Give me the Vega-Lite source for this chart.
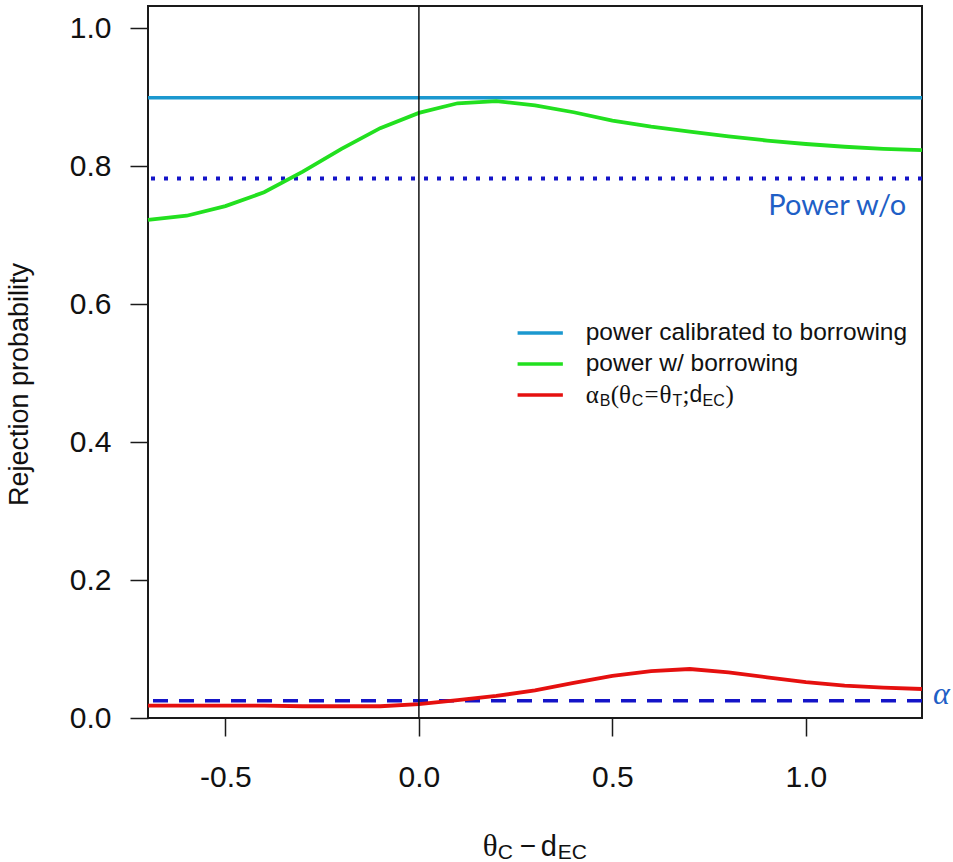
{
  "$schema": "https://vega.github.io/schema/vega-lite/v6.json",
  "width": 774,
  "height": 712,
  "autosize": {"type": "none"},
  "padding": {"left": 148, "top": 6, "right": 31, "bottom": 144},
  "background": "white",
  "data": {"values": [{"anchor": 1}]},
  "config": {
    "view": {"stroke": "#1a1a1a", "strokeWidth": 2},
    "axis": {
      "grid": false,
      "domain": false,
      "tickColor": "#1a1a1a",
      "tickWidth": 1.5,
      "tickSize": 18,
      "labelFont": "Liberation Sans",
      "labelFontSize": 30,
      "labelColor": "#111111",
      "titleFont": "Liberation Sans",
      "titleFontWeight": "normal",
      "titleColor": "#111111"
    },
    "text": {"color": "#111111"}
  },
  "datasets": {
    "curves": [
      {"x": -0.7, "p": 0.722, "series": "power w/ borrowing"},
      {"x": -0.6, "p": 0.728, "series": "power w/ borrowing"},
      {"x": -0.5, "p": 0.742, "series": "power w/ borrowing"},
      {"x": -0.4, "p": 0.762, "series": "power w/ borrowing"},
      {"x": -0.3, "p": 0.792, "series": "power w/ borrowing"},
      {"x": -0.2, "p": 0.825, "series": "power w/ borrowing"},
      {"x": -0.1, "p": 0.855, "series": "power w/ borrowing"},
      {"x": 0.0, "p": 0.877, "series": "power w/ borrowing"},
      {"x": 0.1, "p": 0.891, "series": "power w/ borrowing"},
      {"x": 0.2, "p": 0.894, "series": "power w/ borrowing"},
      {"x": 0.3, "p": 0.888, "series": "power w/ borrowing"},
      {"x": 0.4, "p": 0.878, "series": "power w/ borrowing"},
      {"x": 0.5, "p": 0.866, "series": "power w/ borrowing"},
      {"x": 0.6, "p": 0.857, "series": "power w/ borrowing"},
      {"x": 0.7, "p": 0.850, "series": "power w/ borrowing"},
      {"x": 0.8, "p": 0.843, "series": "power w/ borrowing"},
      {"x": 0.9, "p": 0.837, "series": "power w/ borrowing"},
      {"x": 1.0, "p": 0.832, "series": "power w/ borrowing"},
      {"x": 1.1, "p": 0.828, "series": "power w/ borrowing"},
      {"x": 1.2, "p": 0.825, "series": "power w/ borrowing"},
      {"x": 1.3, "p": 0.823, "series": "power w/ borrowing"},
      {"x": -0.7, "p": 0.018, "series": "alpha"},
      {"x": -0.6, "p": 0.018, "series": "alpha"},
      {"x": -0.5, "p": 0.018, "series": "alpha"},
      {"x": -0.4, "p": 0.018, "series": "alpha"},
      {"x": -0.3, "p": 0.017, "series": "alpha"},
      {"x": -0.2, "p": 0.017, "series": "alpha"},
      {"x": -0.1, "p": 0.017, "series": "alpha"},
      {"x": 0.0, "p": 0.020, "series": "alpha"},
      {"x": 0.1, "p": 0.026, "series": "alpha"},
      {"x": 0.2, "p": 0.032, "series": "alpha"},
      {"x": 0.3, "p": 0.040, "series": "alpha"},
      {"x": 0.4, "p": 0.051, "series": "alpha"},
      {"x": 0.5, "p": 0.061, "series": "alpha"},
      {"x": 0.6, "p": 0.068, "series": "alpha"},
      {"x": 0.7, "p": 0.071, "series": "alpha"},
      {"x": 0.8, "p": 0.066, "series": "alpha"},
      {"x": 0.9, "p": 0.059, "series": "alpha"},
      {"x": 1.0, "p": 0.052, "series": "alpha"},
      {"x": 1.1, "p": 0.047, "series": "alpha"},
      {"x": 1.2, "p": 0.044, "series": "alpha"},
      {"x": 1.3, "p": 0.042, "series": "alpha"}
    ]
  },
  "layer": [
    {
      "mark": {"type": "rule", "stroke": "#1414c8", "strokeWidth": 4, "strokeDash": [4, 9]},
      "encoding": {"y": {"datum": 0.782, "type": "quantitative", "scale": {"domain": [0, 1.032], "nice": false, "zero": false}}}
    },
    {
      "mark": {"type": "rule", "stroke": "#1414c8", "strokeWidth": 3.5, "strokeDash": [15, 11]},
      "encoding": {"y": {"datum": 0.025, "type": "quantitative", "scale": {"domain": [0, 1.032], "nice": false, "zero": false}}}
    },
    {
      "mark": {"type": "rule", "stroke": "#1b98cf", "strokeWidth": 3.5},
      "encoding": {"y": {"datum": 0.899, "type": "quantitative", "scale": {"domain": [0, 1.032], "nice": false, "zero": false}}}
    },
    {
      "data": {"name": "curves"},
      "mark": {"type": "line", "strokeWidth": 3.8},
      "encoding": {
        "x": {
          "field": "x", "type": "quantitative",
          "scale": {"domain": [-0.7, 1.3], "nice": false, "zero": false},
          "axis": {"values": [-0.5, 0, 0.5, 1], "labelExpr": "replace(format(datum.value, '.1f'), '\u2212', '-')", "labelPadding": 26, "title": null}
        },
        "y": {
          "field": "p", "type": "quantitative",
          "scale": {"domain": [0, 1.032], "nice": false, "zero": false},
          "axis": {"values": [0, 0.2, 0.4, 0.6, 0.8, 1.0], "format": ".1f", "labelPadding": 19, "title": "Rejection probability", "titleFontSize": 27, "titlePadding": 36, "titleY": 378}
        },
        "color": {
          "field": "series", "type": "nominal",
          "scale": {"domain": ["power w/ borrowing", "alpha"], "range": ["#22e01f", "#e5100f"]},
          "legend": null
        }
      }
    },
    {
      "mark": {"type": "rule", "stroke": "#111111", "strokeWidth": 1.5},
      "encoding": {"x": {"datum": 0, "type": "quantitative", "scale": {"domain": [-0.7, 1.3], "nice": false, "zero": false}}}
    },
    {
      "mark": {"type": "rule", "stroke": "#1b98cf", "strokeWidth": 3.5},
      "encoding": {
        "x": {"datum": 0.255, "type": "quantitative", "scale": {"domain": [-0.7, 1.3], "nice": false, "zero": false}},
        "x2": {"datum": 0.372},
        "y": {"datum": 0.558, "type": "quantitative", "scale": {"domain": [0, 1.032], "nice": false, "zero": false}}
      }
    },
    {
      "mark": {"type": "rule", "stroke": "#22e01f", "strokeWidth": 3.5},
      "encoding": {
        "x": {"datum": 0.255, "type": "quantitative", "scale": {"domain": [-0.7, 1.3], "nice": false, "zero": false}},
        "x2": {"datum": 0.372},
        "y": {"datum": 0.513, "type": "quantitative", "scale": {"domain": [0, 1.032], "nice": false, "zero": false}}
      }
    },
    {
      "mark": {"type": "rule", "stroke": "#e5100f", "strokeWidth": 3.5},
      "encoding": {
        "x": {"datum": 0.255, "type": "quantitative", "scale": {"domain": [-0.7, 1.3], "nice": false, "zero": false}},
        "x2": {"datum": 0.372},
        "y": {"datum": 0.468, "type": "quantitative", "scale": {"domain": [0, 1.032], "nice": false, "zero": false}}
      }
    },
    {
      "mark": {"type": "text", "text": "power calibrated to borrowing", "font": "Liberation Sans", "fontSize": 24.5, "align": "left", "baseline": "middle"},
      "encoding": {
        "x": {"datum": 0.431, "type": "quantitative", "scale": {"domain": [-0.7, 1.3], "nice": false, "zero": false}},
        "y": {"datum": 0.558, "type": "quantitative", "scale": {"domain": [0, 1.032], "nice": false, "zero": false}}
      }
    },
    {
      "mark": {"type": "text", "text": "power w/ borrowing", "font": "Liberation Sans", "fontSize": 24.5, "align": "left", "baseline": "middle"},
      "encoding": {
        "x": {"datum": 0.431, "type": "quantitative", "scale": {"domain": [-0.7, 1.3], "nice": false, "zero": false}},
        "y": {"datum": 0.513, "type": "quantitative", "scale": {"domain": [0, 1.032], "nice": false, "zero": false}}
      }
    },
    {
      "mark": {"type": "text", "text": "α", "font": "Liberation Serif", "fontSize": 25, "align": "left", "baseline": "middle"},
      "encoding": {
        "x": {"datum": 0.431, "type": "quantitative", "scale": {"domain": [-0.7, 1.3], "nice": false, "zero": false}},
        "y": {"datum": 0.468, "type": "quantitative", "scale": {"domain": [0, 1.032], "nice": false, "zero": false}}
      }
    },
    {
      "mark": {"type": "text", "text": "B", "font": "Liberation Sans", "fontSize": 16, "align": "left", "baseline": "middle"},
      "encoding": {
        "x": {"datum": 0.4671, "type": "quantitative", "scale": {"domain": [-0.7, 1.3], "nice": false, "zero": false}},
        "y": {"datum": 0.460, "type": "quantitative", "scale": {"domain": [0, 1.032], "nice": false, "zero": false}}
      }
    },
    {
      "mark": {"type": "text", "text": "(θ", "font": "Liberation Serif", "fontSize": 25, "align": "left", "baseline": "middle"},
      "encoding": {
        "x": {"datum": 0.4955, "type": "quantitative", "scale": {"domain": [-0.7, 1.3], "nice": false, "zero": false}},
        "y": {"datum": 0.468, "type": "quantitative", "scale": {"domain": [0, 1.032], "nice": false, "zero": false}}
      }
    },
    {
      "mark": {"type": "text", "text": "C", "font": "Liberation Sans", "fontSize": 16, "align": "left", "baseline": "middle"},
      "encoding": {
        "x": {"datum": 0.5497, "type": "quantitative", "scale": {"domain": [-0.7, 1.3], "nice": false, "zero": false}},
        "y": {"datum": 0.460, "type": "quantitative", "scale": {"domain": [0, 1.032], "nice": false, "zero": false}}
      }
    },
    {
      "mark": {"type": "text", "text": "=", "font": "Liberation Serif", "fontSize": 25, "align": "left", "baseline": "middle"},
      "encoding": {
        "x": {"datum": 0.5832, "type": "quantitative", "scale": {"domain": [-0.7, 1.3], "nice": false, "zero": false}},
        "y": {"datum": 0.468, "type": "quantitative", "scale": {"domain": [0, 1.032], "nice": false, "zero": false}}
      }
    },
    {
      "mark": {"type": "text", "text": "θ", "font": "Liberation Serif", "fontSize": 25, "align": "left", "baseline": "middle"},
      "encoding": {
        "x": {"datum": 0.6219, "type": "quantitative", "scale": {"domain": [-0.7, 1.3], "nice": false, "zero": false}},
        "y": {"datum": 0.468, "type": "quantitative", "scale": {"domain": [0, 1.032], "nice": false, "zero": false}}
      }
    },
    {
      "mark": {"type": "text", "text": "T", "font": "Liberation Sans", "fontSize": 16, "align": "left", "baseline": "middle"},
      "encoding": {
        "x": {"datum": 0.6555, "type": "quantitative", "scale": {"domain": [-0.7, 1.3], "nice": false, "zero": false}},
        "y": {"datum": 0.460, "type": "quantitative", "scale": {"domain": [0, 1.032], "nice": false, "zero": false}}
      }
    },
    {
      "mark": {"type": "text", "text": ";", "font": "Liberation Serif", "fontSize": 25, "align": "left", "baseline": "middle"},
      "encoding": {
        "x": {"datum": 0.6813, "type": "quantitative", "scale": {"domain": [-0.7, 1.3], "nice": false, "zero": false}},
        "y": {"datum": 0.468, "type": "quantitative", "scale": {"domain": [0, 1.032], "nice": false, "zero": false}}
      }
    },
    {
      "mark": {"type": "text", "text": "d", "font": "Liberation Sans", "fontSize": 23, "align": "left", "baseline": "middle"},
      "encoding": {
        "x": {"datum": 0.6994, "type": "quantitative", "scale": {"domain": [-0.7, 1.3], "nice": false, "zero": false}},
        "y": {"datum": 0.468, "type": "quantitative", "scale": {"domain": [0, 1.032], "nice": false, "zero": false}}
      }
    },
    {
      "mark": {"type": "text", "text": "EC", "font": "Liberation Sans", "fontSize": 16, "align": "left", "baseline": "middle"},
      "encoding": {
        "x": {"datum": 0.7329, "type": "quantitative", "scale": {"domain": [-0.7, 1.3], "nice": false, "zero": false}},
        "y": {"datum": 0.460, "type": "quantitative", "scale": {"domain": [0, 1.032], "nice": false, "zero": false}}
      }
    },
    {
      "mark": {"type": "text", "text": ")", "font": "Liberation Serif", "fontSize": 25, "align": "left", "baseline": "middle"},
      "encoding": {
        "x": {"datum": 0.7923, "type": "quantitative", "scale": {"domain": [-0.7, 1.3], "nice": false, "zero": false}},
        "y": {"datum": 0.468, "type": "quantitative", "scale": {"domain": [0, 1.032], "nice": false, "zero": false}}
      }
    },
    {
      "mark": {"type": "text", "text": "Power w/o", "font": "Lato", "fontSize": 29, "align": "right", "baseline": "alphabetic", "color": "#1f5fc6"},
      "encoding": {
        "x": {"datum": 1.259, "type": "quantitative", "scale": {"domain": [-0.7, 1.3], "nice": false, "zero": false}},
        "y": {"datum": 0.729, "type": "quantitative", "scale": {"domain": [0, 1.032], "nice": false, "zero": false}}
      }
    },
    {
      "mark": {"type": "text", "text": "α", "font": "Liberation Serif", "fontStyle": "italic", "fontSize": 32, "align": "center", "baseline": "middle", "color": "#1f5fc6"},
      "encoding": {
        "x": {"datum": 1.35, "type": "quantitative", "scale": {"domain": [-0.7, 1.3], "nice": false, "zero": false}},
        "y": {"datum": 0.035, "type": "quantitative", "scale": {"domain": [0, 1.032], "nice": false, "zero": false}}
      }
    },
    {
      "mark": {"type": "text", "text": "θ", "font": "Liberation Serif", "fontSize": 31, "align": "left", "baseline": "middle"},
      "encoding": {
        "x": {"datum": 0.1652, "type": "quantitative", "scale": {"domain": [-0.7, 1.3], "nice": false, "zero": false}},
        "y": {"datum": -0.187, "type": "quantitative", "scale": {"domain": [0, 1.032], "nice": false, "zero": false}}
      }
    },
    {
      "mark": {"type": "text", "text": "C", "font": "Liberation Sans", "fontSize": 21, "align": "left", "baseline": "middle"},
      "encoding": {
        "x": {"datum": 0.2039, "type": "quantitative", "scale": {"domain": [-0.7, 1.3], "nice": false, "zero": false}},
        "y": {"datum": -0.196, "type": "quantitative", "scale": {"domain": [0, 1.032], "nice": false, "zero": false}}
      }
    },
    {
      "mark": {"type": "text", "text": "−", "font": "Liberation Sans", "fontSize": 28, "align": "left", "baseline": "middle"},
      "encoding": {
        "x": {"datum": 0.2606, "type": "quantitative", "scale": {"domain": [-0.7, 1.3], "nice": false, "zero": false}},
        "y": {"datum": -0.187, "type": "quantitative", "scale": {"domain": [0, 1.032], "nice": false, "zero": false}}
      }
    },
    {
      "mark": {"type": "text", "text": "d", "font": "Liberation Sans", "fontSize": 29, "align": "left", "baseline": "middle"},
      "encoding": {
        "x": {"datum": 0.3148, "type": "quantitative", "scale": {"domain": [-0.7, 1.3], "nice": false, "zero": false}},
        "y": {"datum": -0.187, "type": "quantitative", "scale": {"domain": [0, 1.032], "nice": false, "zero": false}}
      }
    },
    {
      "mark": {"type": "text", "text": "EC", "font": "Liberation Sans", "fontSize": 21, "align": "left", "baseline": "middle"},
      "encoding": {
        "x": {"datum": 0.3587, "type": "quantitative", "scale": {"domain": [-0.7, 1.3], "nice": false, "zero": false}},
        "y": {"datum": -0.196, "type": "quantitative", "scale": {"domain": [0, 1.032], "nice": false, "zero": false}}
      }
    }
  ]
}
